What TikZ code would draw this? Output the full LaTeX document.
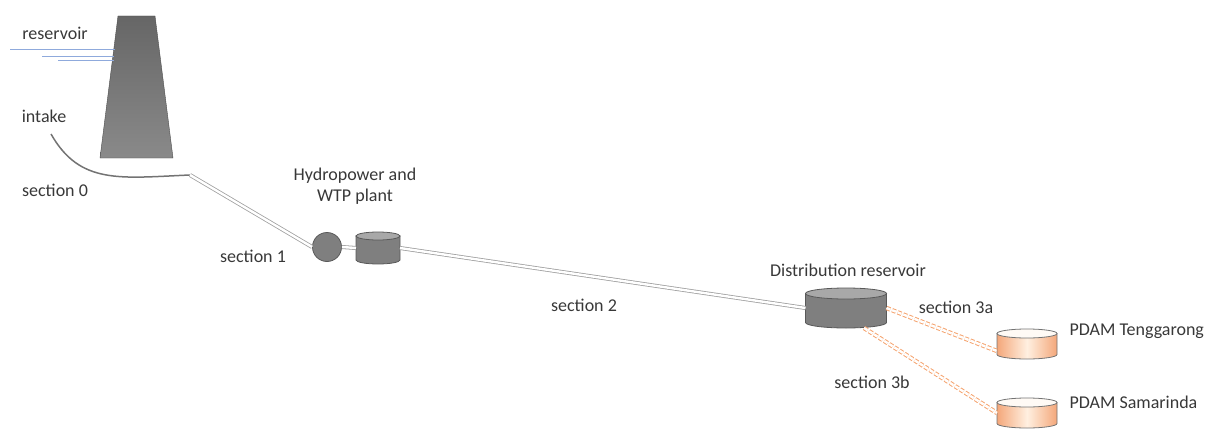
\documentclass[tikz,border=0pt]{standalone}
\usepackage{fontspec}
\setmainfont{Carlito}

\definecolor{pipegray}{HTML}{A0A0A0}
\definecolor{tankgray}{HTML}{7F7F7F}
\definecolor{lidgray}{HTML}{A8A8A8}
\definecolor{wateblue}{HTML}{8FAADC}
\definecolor{pdamorange}{HTML}{F4A77A}

% tank body and lid drawn round a named node: #1 name, #2 half width, #3 lid depth, #4 body, #5 lid
\newcommand{\tankdraw}[5]{%
  \path[#4] ([yshift=-#3]#1.north west) -- ([yshift=#3]#1.south west)
    arc[start angle=180, end angle=360, x radius=#2, y radius=#3] -- ([yshift=-#3]#1.north east) -- cycle;
  \path[#5] ([yshift=-#3]#1.north) ellipse [x radius=#2, y radius=#3];
}

\tikzset{
  txt/.style={font=\fontsize{18}{21}\selectfont, text=black!78, align=center},
  pipe/.style={draw=pipegray, line width=0.8pt, double=white, double distance=2.4pt},
  pdampipe/.style={draw=pdamorange!90!orange, line width=1pt, dash pattern=on 4pt off 2pt, double=white, double distance=2.4pt},
  tankbox/.style={rectangle, inner sep=0pt, outer sep=0pt},
  graybody/.style={draw=black!65, thick, fill=tankgray},
  graylid/.style={draw=black!65, thick, fill=lidgray},
  orangebody/.style={draw=black!55, thick, left color=pdamorange, right color=pdamorange, middle color=orange!12},
  orangelid/.style={draw=black!55, thick, fill=orange!4}
}

\begin{document}
\begin{tikzpicture}[x=1pt, y=-1pt]
  \clip (0,0) rectangle (1209,428);
  \useasboundingbox (0,0) rectangle (1209,428);

  % dam and reservoir water
  \shade[top color=black!60, bottom color=black!46, draw=black!70] (118,16) -- (155,16) -- (173,158) -- (100,158) -- cycle;
  \draw[wateblue, line width=1pt] (10,50) -- (115,50);
  \draw[wateblue, line width=1pt] (42,57) -- (114,57);
  \draw[wateblue, line width=1pt] (58,61) -- (114,61);

  % pumps, plants and reservoirs
  \coordinate (intake) at (51,134);
  \coordinate (bend) at (190,175);
  \node[circle, draw=black!65, thick, fill=tankgray, minimum size=29pt, inner sep=0pt] (turbine) at (327,247) {};
  \node[tankbox, minimum width=44pt, minimum height=32pt] (wtp) at (378,248) {};
  \node[tankbox, minimum width=81pt, minimum height=40pt] (distres) at (846,308) {};
  \node[tankbox, minimum width=60pt, minimum height=30pt] (tenggarong) at (1027,344) {};
  \node[tankbox, minimum width=60pt, minimum height=30pt] (samarinda) at (1027,413) {};
  \tankdraw{wtp}{22pt}{4pt}{graybody}{graylid}
  \tankdraw{distres}{40.5pt}{5.5pt}{graybody}{graylid}
  \tankdraw{tenggarong}{30pt}{4.5pt}{orangebody}{orangelid}
  \tankdraw{samarinda}{30pt}{4.5pt}{orangebody}{orangelid}

  % labels
  \node[txt] (reslbl) at (55,33) {reservoir};
  \node[txt] (intakelbl) at (44,116) {intake};
  \node[txt] (sec0) at (55,190) {section 0};
  \node[txt] (sec1) at (253,256) {section 1};
  \node[txt] (plantlbl) at (355,186) {Hydropower and\\WTP plant};
  \node[txt] (sec2) at (584,305) {section 2};
  \node[txt] (distlbl) at (848,270) {Distribution reservoir};
  \node[txt] (sec3a) at (956,307) {section 3a};
  \node[txt] (sec3b) at (872,382) {section 3b};
  \node[txt, anchor=west] (tglbl) at (1066,331) {PDAM Tenggarong};
  \node[txt, anchor=west] (smlbl) at (1066,402) {PDAM Samarinda};

  % pipelines
  \draw[black!55, line width=1.5pt] (intake) .. controls (80,185) and (120,178) .. (bend);
  \draw[pipe] (bend) -- (turbine.west);
  \draw[pipe] (turbine.east) -- (wtp.west);
  \draw[pipe] (wtp.east) -- (distres.west);
  \draw[pdampipe] (distres.east) -- ([yshift=-7pt]tenggarong.west);
  \draw[pdampipe] ([xshift=18pt]distres.south) -- (samarinda.west);
\end{tikzpicture}
\end{document}
